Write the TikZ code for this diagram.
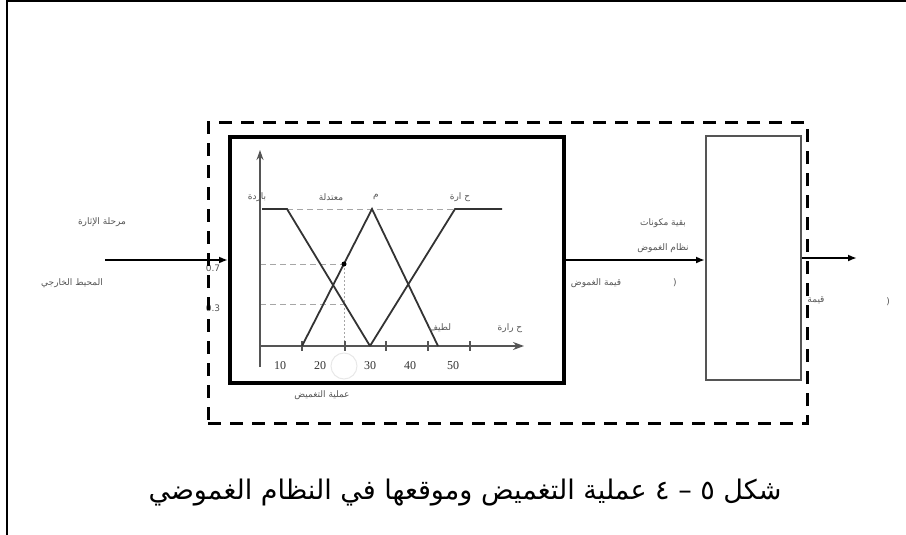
\documentclass[tikz,border=0pt]{standalone}
\usepackage{fontspec}
\setmainfont{Liberation Serif}
\newfontfamily\arabicfont[Script=Arabic]{DejaVu Sans}
\TeXXeTstate=1
\usetikzlibrary{arrows.meta}
\definecolor{lblgray}{HTML}{555555}
\definecolor{lngray}{HTML}{333333}
\definecolor{axgray}{HTML}{555555}
\tikzset{
  dashbox/.style={draw, line width=3pt, dash pattern=on 13pt off 9pt, minimum width=599pt, minimum height=300pt, inner sep=0pt},
  fuzzbox/.style={draw, line width=4pt, minimum width=334pt, minimum height=246pt, inner sep=0pt},
  restbox/.style={draw=axgray, line width=2pt, minimum width=95pt, minimum height=244pt, inner sep=0pt},
  arr/.style={line width=2.6pt, -{Latex[length=9pt,width=7pt]}},
  axis/.style={draw=axgray, line width=2.6pt},
  mf/.style={draw=lngray, line width=1.8pt},
  guide/.style={draw=gray!70, line width=1pt, dash pattern=on 6pt off 4pt},
  lbl/.style={font=\arabicfont\fontsize{9}{10}\selectfont, text=lblgray, inner sep=0pt},
  num/.style={font=\fontsize{12}{13}\selectfont, text=lngray, inner sep=0pt},
  captxt/.style={font=\arabicfont\fontsize{27}{30}\selectfont, inner sep=0pt}
}
\begin{document}
\begin{tikzpicture}[x=1pt,y=-1pt]
\useasboundingbox (0,0) rectangle (906,535);
% outer frame (left and top)
\draw[line width=2pt] (7,540) -- (7,1) -- (910,1);
% faint labels under the dashed line
\node[lbl] (v07) at (213,268) {0.7};
\node[lbl] (v03) at (213,308) {0.3};
\node[lbl] (qv2) at (816,300) {\beginR قيمة\endR};
% boxes
\node[dashbox] (dbox) at (507.5,273) {};
\node[fuzzbox] (fz) at (397,260) {};
\node[restbox] (rb) at (753.5,258) {};
% arrows
\coordinate (in) at (105,260);
\coordinate (out) at (857,257);
\draw[arr] (in) -- (in -| fz.west);
\draw[arr] (fz.east) -- (fz.east -| rb.west);
\draw[arr] (rb.east) -- (rb.east -| out);
% chart guides
\draw[guide] (287,209) -- (455,209);
\draw[guide] (260,264) -- (344,264);
\draw[guide] (260,304) -- (344,304);
\draw[draw=gray!70, line width=1pt, dash pattern=on 2pt off 2pt] (344,264) -- (344,346);
% axes
\draw[axis, -{Stealth[length=10pt,width=7pt]}] (260,367) -- (260,150);
\draw[axis, -{Stealth[length=11pt,width=8pt]}] (260,346) -- (524,346);
\foreach \tx in {302,345,386,428,470}{\draw[axgray, line width=2pt] (\tx,341) -- (\tx,351);}
% membership functions
\draw[mf] (262,209) -- (287,209) -- (370,346);
\draw[mf] (302,346) -- (372,209) -- (438,346);
\draw[mf] (370,346) -- (455,209) -- (502,209);
\fill[black] (344,264) circle (2.5pt);
\draw[gray!18, line width=1pt] (344,366) circle (13pt);
% chart labels
\node[lbl] (l1) at (257,197) {\beginR باردة\endR};
\node[lbl] (l2) at (331,197) {\beginR معتدلة\endR};
\node[lbl] (l3) at (376,197) {\beginR م\endR};
\node[lbl] (l4) at (460,197) {\beginR ح ارة\endR};
\node[lbl] (l5) at (440,328) {\beginR لطيف\endR};
\node[lbl] (l6) at (510,328) {\beginR ح رارة\endR};
\node[num] (n10) at (280,366) {10};
\node[num] (n20) at (320,366) {20};
\node[num] (n30) at (370,366) {30};
\node[num] (n40) at (410,366) {40};
\node[num] (n50) at (453,366) {50};
\node[lbl] (fzl) at (322,395) {\beginR عملية التغميض\endR};
% side labels
\node[lbl] (exc) at (102,222) {\beginR مرحلة الإثارة\endR};
\node[lbl] (env) at (72,283) {\beginR المحيط الخارجي\endR};
\node[lbl] (rest1) at (663,223) {\beginR بقية مكونات\endR};
\node[lbl] (rest2) at (663,248) {\beginR نظام الغموض\endR};
\node[lbl] (qv) at (596,283) {\beginR قيمة الغموض\endR};
\node[lbl] (p1) at (675,283) {(};
\node[lbl] (p2) at (888,302) {(};
% caption
\node[captxt] (caption) at (465,493) {\beginR شكل ٥ – ٤ عملية التغميض وموقعها في النظام الغموضي\endR};
\end{tikzpicture}
\end{document}
